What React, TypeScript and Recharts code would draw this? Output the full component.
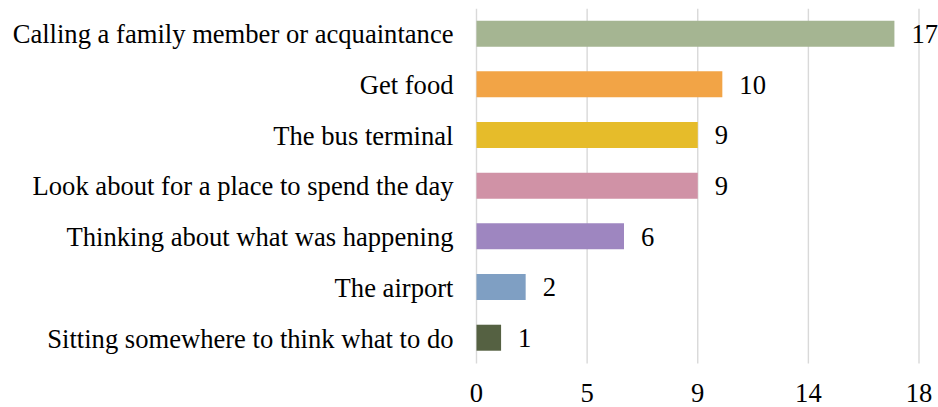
import React from "react";
import { BarChart, Bar, XAxis, YAxis, CartesianGrid, Cell, LabelList } from "recharts";

const categories = [
  "Calling a family member or acquaintance",
  "Get food",
  "The bus terminal",
  "Look about for a place to spend the day",
  "Thinking about what was happening",
  "The airport",
  "Sitting somewhere to think what to do",
];
const values = [17, 10, 9, 9, 6, 2, 1];
const colors = ["#A5B592", "#F2A446", "#E6BC2A", "#D092A6", "#9E86C0", "#7F9FC3", "#556142"];
const xTickValues = [0, 4.5, 9, 13.5, 18];
const xTickLabels = ["0", "5", "9", "14", "18"];

const data = categories.map((name, i) => ({ name, value: values[i] }));

const FONT = "'Liberation Serif', 'Times New Roman', serif";
const FS = 26.6;

export default function App() {
  return (
    <div style={{ position: "absolute", left: 0, top: 0, width: 938, height: 407, overflow: "hidden" }}>
      <BarChart
        width={938}
        height={407}
        data={data}
        layout="vertical"
        margin={{ top: 8.65, right: 19, bottom: 0, left: 0 }}
      >
        <CartesianGrid horizontal={false} vertical={true} stroke="#D9D9D9" strokeWidth={1.4} />
        <XAxis
          type="number"
          domain={[0, 18]}
          ticks={xTickValues}
          tickFormatter={(v: number) => xTickLabels[xTickValues.indexOf(v)]}
          axisLine={false}
          tickLine={false}
          tickSize={0}
          tickMargin={20}
          height={43.6}
          interval={0}
          tick={{ fill: "#000", fontFamily: FONT, fontSize: FS }}
        />
        <YAxis
          type="category"
          dataKey="name"
          width={476.5}
          axisLine={false}
          tickLine={false}
          tickSize={0}
          tickMargin={23}
          interval={0}
          tick={{ fill: "#000", fontFamily: FONT, fontSize: FS }}
        />
        <Bar dataKey="value" barSize={26} isAnimationActive={false}>
          {data.map((d, i) => (
            <Cell key={d.name} fill={colors[i]} />
          ))}
          <LabelList
            dataKey="value"
            position="right"
            offset={17}
            fill="#000"
            style={{ fontFamily: FONT, fontSize: FS }}
          />
        </Bar>
      </BarChart>
    </div>
  );
}
